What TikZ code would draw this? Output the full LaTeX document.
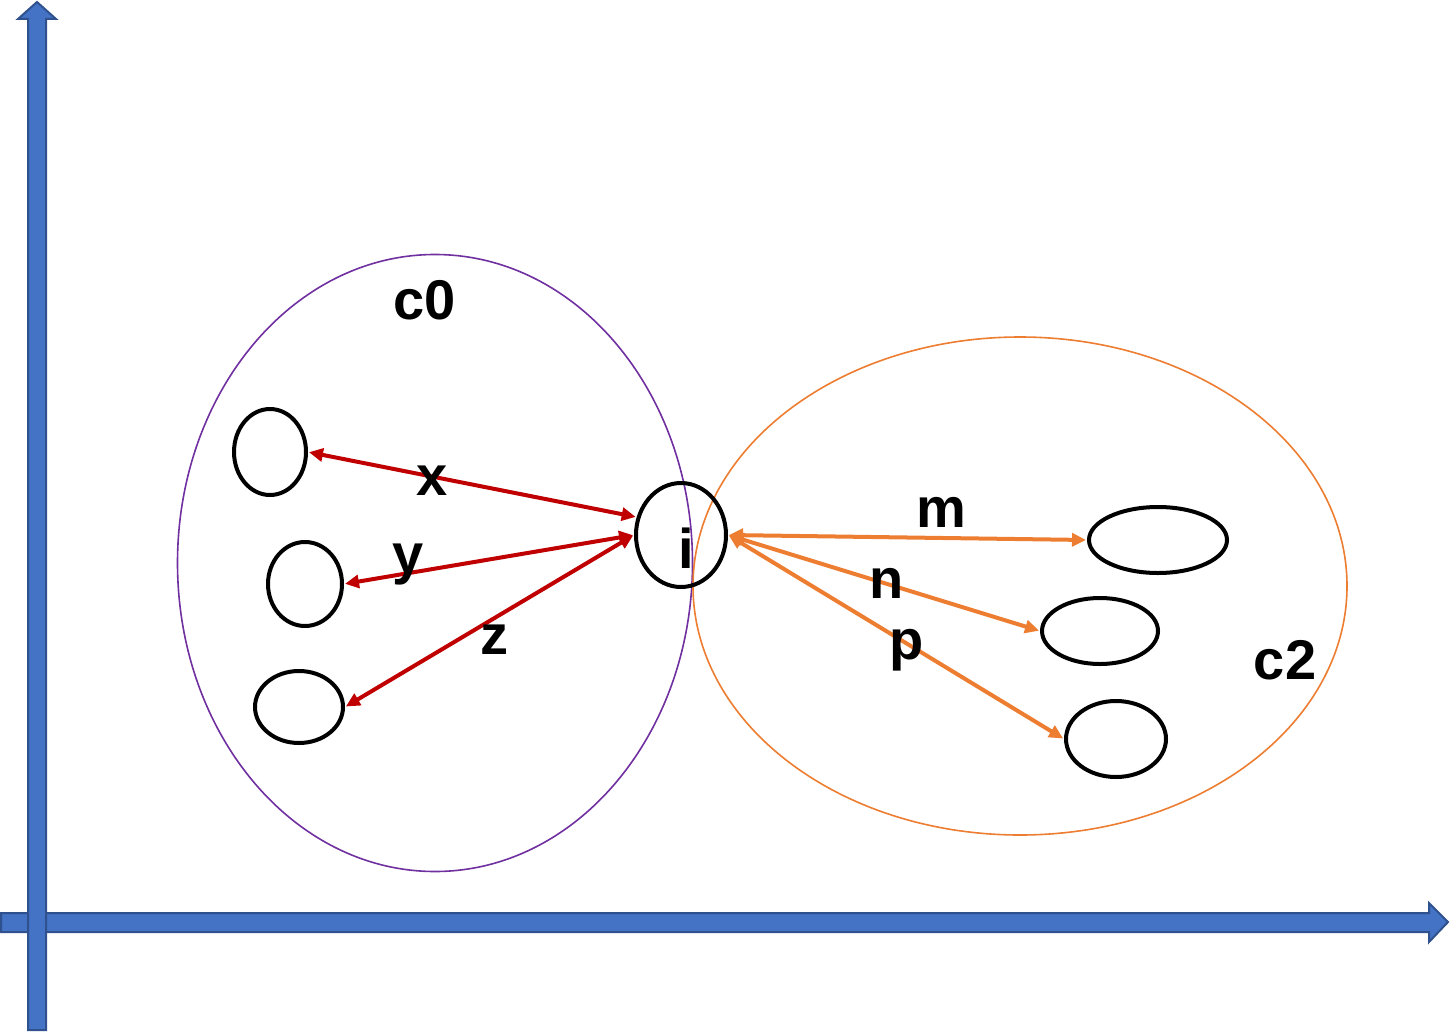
\documentclass[tikz,border=0pt]{standalone}
\usepackage{fontspec}
\setmainfont{Liberation Sans}
\usetikzlibrary{arrows.meta,shapes.geometric}

\definecolor{axisfill}{HTML}{4472C4}
\definecolor{axisline}{HTML}{2F528F}
\definecolor{clusterA}{HTML}{7030A0}
\definecolor{clusterB}{HTML}{ED7D31}
\definecolor{linkred}{HTML}{C00000}

\begin{document}
\begin{tikzpicture}[x=1pt, y=-1pt,
axis/.style={fill=axisfill, draw=axisline, line width=2pt, line join=miter},
cluster/.style={draw, ellipse, line width=1.6pt, inner sep=0pt},
item/.style={draw, ellipse, line width=4pt, inner sep=0pt},
lbl/.style={font=\fontsize{56}{64}\selectfont\bfseries, inner sep=0pt},
redlink/.style={{Triangle[length=14pt,width=13pt]}-{Triangle[length=14pt,width=13pt]}, linkred, line width=4pt, shorten <=1pt, shorten >=1pt},
orangelink/.style={{Triangle[length=14pt,width=13pt]}-{Triangle[length=14pt,width=13pt]}, clusterB, line width=4pt, shorten <=1pt, shorten >=1pt}]
\useasboundingbox (0,0) rectangle (1450,1033);
% axes
\draw[axis] (1,913) -- (1429,913) -- (1429,903) -- (1448,922) -- (1429,942) -- (1429,932) -- (1,932) -- cycle;
\draw[axis] (28,1030) -- (28,19) -- (18,19) -- (37,2) -- (56,19) -- (46,19) -- (46,1030) -- cycle;
% clusters
\node[cluster, draw=clusterA, minimum width=515pt, minimum height=617pt] (c0) at (435,563) {};
\node[cluster, draw=clusterB, minimum width=654pt, minimum height=498pt] (c2) at (1020,586) {};
\node[lbl] (c0lbl) at (425,300) {c0};
\node[lbl] (c2lbl) at (1285,660) {c2};
% points
\node[item, minimum width=72pt, minimum height=86pt] (a1) at (270,452) {};
\node[item, minimum width=74pt, minimum height=84pt] (a2) at (305,584) {};
\node[item, minimum width=88pt, minimum height=72pt] (a3) at (299,707) {};
\node[item, minimum width=90pt, minimum height=104pt] (i) at (681,535) {};
\node[lbl] (ilbl) at (686,548) {i};
\node[item, minimum width=138pt, minimum height=66pt] (b1) at (1158,540) {};
\node[item, minimum width=116pt, minimum height=66pt] (b2) at (1100,631) {};
\node[item, minimum width=100pt, minimum height=76pt] (b3) at (1116,739) {};
% links
\draw[redlink] (a1.east) -- (i.158);
\draw[redlink] (a2.east) -- (i.west);
\draw[redlink] (a3.east) -- (i.west);
\draw[orangelink] (i.east) -- (b1.west);
\draw[orangelink] (i.east) -- (b2.west);
\draw[orangelink] (i.east) -- (b3.west);
\node[lbl] (xlbl) at (432,481) {x};
\node[lbl] (ylbl) at (408,565) {y};
\node[lbl] (zlbl) at (494,640) {z};
\node[lbl] (mlbl) at (941,512) {m};
\node[lbl] (nlbl) at (887,583) {n};
\node[lbl] (plbl) at (907,650) {p};
\end{tikzpicture}
\end{document}
